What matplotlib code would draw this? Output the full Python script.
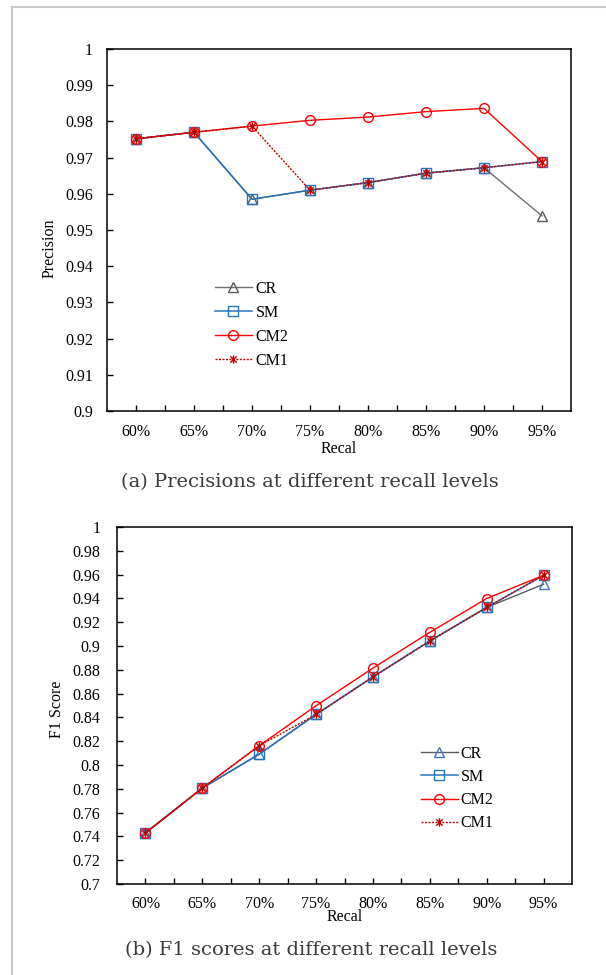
import numpy as np
import matplotlib
matplotlib.use("Agg")
import matplotlib.pyplot as plt
from matplotlib.path import Path
from matplotlib.lines import Line2D

plt.rcParams['font.family'] = ['Liberation Serif', 'DejaVu Serif']

# recall levels on the x axis
recall = ["60%", "65%", "70%", "75%", "80%", "85%", "90%", "95%"]

# precision at each recall level
prec_cr = [0.9752, 0.9770, 0.9585, 0.9610, 0.9631, 0.9657, 0.9672, 0.9539]
prec_sm = [0.9752, 0.9770, 0.9585, 0.9610, 0.9631, 0.9657, 0.9672, 0.9689]
prec_cm2 = [0.9752, 0.9770, 0.9787, 0.9803, 0.9812, 0.9827, 0.9836, 0.9689]
prec_cm1 = [0.9752, 0.9770, 0.9787, 0.9610, 0.9631, 0.9657, 0.9672, 0.9689]

# F1 score at each recall level
f1_cr = [0.7429, 0.7806, 0.8091, 0.8425, 0.8740, 0.9042, 0.9324, 0.9519]
f1_sm = [0.7429, 0.7806, 0.8091, 0.8425, 0.8740, 0.9042, 0.9324, 0.9594]
f1_cm2 = [0.7429, 0.7806, 0.8162, 0.8498, 0.8814, 0.9115, 0.9399, 0.9594]
f1_cm1 = [0.7429, 0.7806, 0.8162, 0.8425, 0.8740, 0.9042, 0.9324, 0.9594]

prec_ticks = np.round(np.arange(0.90, 1.0001, 0.01), 2)
f1_ticks = np.round(np.arange(0.70, 1.0001, 0.02), 2)

# six-armed asterisk like the spreadsheet "star" marker
star = Path([(-1, -1), (1, 1), (-1, 1), (1, -1), (0, -1.3), (0, 1.3)],
            [Path.MOVETO, Path.LINETO, Path.MOVETO, Path.LINETO, Path.MOVETO, Path.LINETO])

RED = '#ff0000'
DARKRED = '#c00000'
BLUE = '#2874b8'
FS = 11.5


def draw_panel(ax, cr, sm, cm2, cm1, cr_edge, cr_line, ticks, tick_pad):
    x = np.arange(len(recall))
    ax.plot(x, cr, color=cr_line, lw=1.0, marker='^', ms=7.5,
            mfc='none', mec=cr_edge, mew=1.0, label='CR')
    ax.plot(x, sm, color=BLUE, lw=1.1, marker='s', ms=6.5,
            mfc='none', mec=BLUE, mew=1.0, label='SM')
    ax.plot(x, cm2, color=RED, lw=1.0, marker='o', ms=7,
            mfc='none', mec=RED, mew=1.0, label='CM2')
    ax.plot(x, cm1, color=DARKRED, lw=1.0, ls=(0, (1.5, 1.0)), marker=star,
            ms=6, mec=DARKRED, mew=1.0, label='CM1')

    ax.set_xlim(-0.5, len(recall) - 0.5)
    ax.set_ylim(ticks[0], ticks[-1])
    ax.set_xticks(x)
    ax.set_xticklabels(recall)
    ax.set_xticks(x[:-1] + 0.5, minor=True)
    ax.set_yticks(ticks)
    ax.set_yticklabels([f"{t:g}" for t in ticks])
    ax.tick_params(axis='x', which='both', direction='in', length=4,
                   width=1, pad=9, labelsize=FS)
    ax.tick_params(axis='y', direction='in', length=4, width=1,
                   pad=tick_pad, labelsize=FS)
    for s in ax.spines.values():
        s.set_linewidth(1.1)
        s.set_color('black')


fig = plt.figure(figsize=(6.06, 9.75), dpi=100)

ax1 = fig.add_axes([107 / 606, 1 - 411 / 975, 464 / 606, 362 / 975])
draw_panel(ax1, prec_cr, prec_sm, prec_cm2, prec_cm1, '#595959', '#707070',
           prec_ticks, 10)
ax1.set_xlabel('Recal', fontsize=FS)
ax1.xaxis.set_label_coords(0.5, -0.105)
ax1.xaxis.label.set_va('center')
ax1.set_ylabel('Precision', fontsize=FS)
ax1.yaxis.set_label_coords(-0.123, 0.45)
ax1.yaxis.label.set_va('center')
ax1.legend(loc='upper left', bbox_to_anchor=(0.233, 0.359), frameon=False,
           fontsize=FS, handlelength=2.3, handletextpad=0.25,
           labelspacing=0.5, borderpad=0, borderaxespad=0)

ax2 = fig.add_axes([117 / 606, 1 - 884 / 975, 455 / 606, 357 / 975])
draw_panel(ax2, f1_cr, f1_sm, f1_cm2, f1_cm1, '#4472c4', '#595959',
           f1_ticks, 12)
ax2.set_xlabel('Recal', fontsize=FS)
ax2.xaxis.set_label_coords(0.5, -0.092)
ax2.xaxis.label.set_va('center')
ax2.set_ylabel('F1 Score', fontsize=FS)
ax2.yaxis.set_label_coords(-0.132, 0.49)
ax2.yaxis.label.set_va('center')
ax2.legend(loc='upper left', bbox_to_anchor=(0.668, 0.387), frameon=False,
           fontsize=FS, handlelength=2.3, handletextpad=0.2,
           labelspacing=0.45, borderpad=0, borderaxespad=0)

# captions under each panel
fig.text(310 / 606, 1 - 482 / 975, '(a) Precisions at different recall levels',
         ha='center', va='center', fontsize=14, color='#3a3a3a',
         family='DejaVu Serif')
fig.text(311 / 606, 1 - 950 / 975, '(b) F1 scores at different recall levels',
         ha='center', va='center', fontsize=14, color='#3a3a3a',
         family='DejaVu Serif')

# light page frame on the left and top
fig.add_artist(Line2D([12 / 606, 12 / 606], [0, 1 - 7 / 975],
                      transform=fig.transFigure, color='#c8c8c8', lw=1.5))
fig.add_artist(Line2D([12 / 606, 1], [1 - 7 / 975, 1 - 7 / 975],
                      transform=fig.transFigure, color='#c8c8c8', lw=1.5))

fig.savefig('out.png', dpi=100)
